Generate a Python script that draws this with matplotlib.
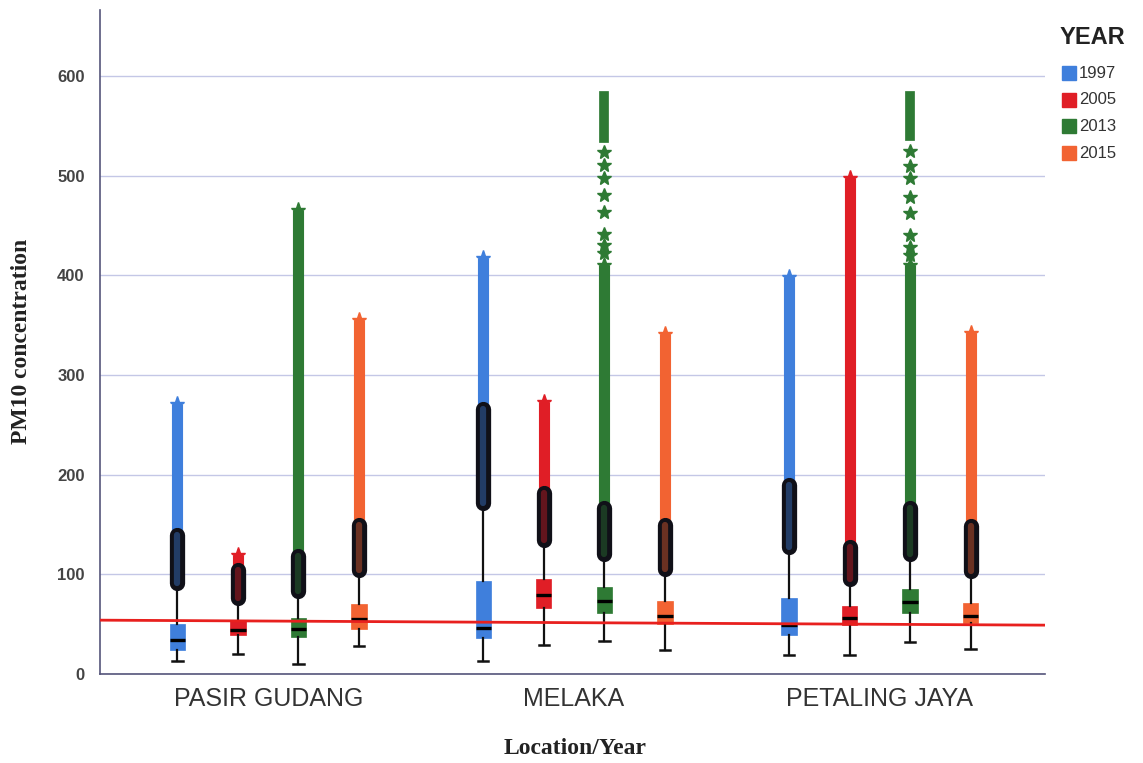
import matplotlib
matplotlib.use("Agg")
import matplotlib.pyplot as plt
from matplotlib.patches import Rectangle

# Boxplot de PM10 por estacion y anio
locations = ["PASIR GUDANG", "MELAKA", "PETALING JAYA"]
years = ["1997", "2005", "2013", "2015"]
colors = ["#3f7fdc", "#e01e26", "#2e7a34", "#f26332"]

# filas = estacion, columnas = anio
whis_lo = [[13, 20, 10, 28], [13, 29, 33, 24], [19, 19, 32, 25]]
q1 = [[24, 39, 37, 45], [36, 66, 61, 50], [39, 49, 61, 51]]
med = [[34, 44, 45, 55], [46, 79, 73, 58], [49, 56, 72, 58]]
q3 = [[50, 54, 56, 70], [93, 95, 87, 73], [76, 68, 85, 71]]
whis_hi = [[91, 76, 83, 104], [172, 134, 120, 105], [127, 95, 120, 103]]
# techo de los outliers (circulos) y de los extremos densos (estrellas)
outlier_top = [[139, 104, 118, 149], [266, 182, 167, 149], [190, 127, 166, 148]]
extreme_top = [[271, 119, 465, 355], [417, 273, 410, 341], [398, 497, 410, 342]]

# extremos sueltos de 2013 (MELAKA, PETALING JAYA)
melaka_2013_stars = [422, 430, 441, 463, 480, 497, 511, 524]
pj_2013_stars = [420, 428, 440, 462, 478, 497, 510, 525]
melaka_2013_top = [538, 580]
pj_2013_top = [540, 580]

limit_line = [54, 49]

fig = plt.figure(figsize=(11.43, 7.63), dpi=100)
ax = fig.add_axes([100 / 1143, 89 / 763, 945 / 1143, 664 / 763])

offsets = [-1.5, -0.5, 0.5, 1.5]
step = 0.198

for j, year in enumerate(years):
    pos = [i + offsets[j] * step for i in range(len(locations))]
    stats = []
    for i in range(len(locations)):
        stats.append({"med": med[i][j], "q1": q1[i][j], "q3": q3[i][j],
                      "whislo": whis_lo[i][j], "whishi": whis_hi[i][j], "fliers": []})
    ax.bxp(stats, positions=pos, widths=0.05, patch_artist=True, showfliers=False,
           capwidths=0.034, manage_ticks=False,
           boxprops=dict(facecolor=colors[j], edgecolor=colors[j], linewidth=0.5),
           medianprops=dict(color="black", linewidth=2.4),
           whiskerprops=dict(color="#111111", linewidth=1.6),
           capprops=dict(color="#111111", linewidth=1.8))
    for i, x in enumerate(pos):
        # extremos densos
        ax.plot([x, x], [outlier_top[i][j], extreme_top[i][j]], color=colors[j],
                lw=8, solid_capstyle="butt", zorder=3)
        ax.plot([x], [extreme_top[i][j]], marker="*", ms=11, color=colors[j], zorder=3)
        # outliers (circulos con borde negro)
        ax.plot([x, x], [whis_hi[i][j], outlier_top[i][j]], color="#101018",
                lw=11, solid_capstyle="round", zorder=4)
        ax.plot([x, x], [whis_hi[i][j], outlier_top[i][j]], color=colors[j],
                lw=4.5, alpha=0.4, solid_capstyle="round", zorder=5)

x13 = [1 + offsets[2] * step, 2 + offsets[2] * step]
ax.plot([x13[0]] * len(melaka_2013_stars), melaka_2013_stars, "*", ms=10,
        color=colors[2], zorder=3)
ax.plot([x13[1]] * len(pj_2013_stars), pj_2013_stars, "*", ms=10,
        color=colors[2], zorder=3)
ax.plot([x13[0], x13[0]], melaka_2013_top, color=colors[2], lw=7, zorder=3)
ax.plot([x13[1], x13[1]], pj_2013_top, color=colors[2], lw=7, zorder=3)

xlim = (-0.55, 2.54)
ax.plot(xlim, limit_line, color="#e8201e", lw=2, zorder=10)

ax.set_xlim(xlim)
ax.set_ylim(0, 666)
ax.set_yticks([0, 100, 200, 300, 400, 500, 600])
ax.set_xticks(range(len(locations)))
ax.set_xticklabels(locations, fontsize=18, color="#333333", family="Liberation Sans")
ax.tick_params(axis="x", length=0, pad=9)
ax.tick_params(axis="y", length=0, pad=11, labelsize=12, labelcolor="#444444")
for lab in ax.get_yticklabels():
    lab.set_fontweight("bold")
    lab.set_family("Liberation Sans")

ax.grid(axis="y", color="#c4c7e6", lw=1)
ax.set_axisbelow(True)
for s in ["top", "right"]:
    ax.spines[s].set_visible(False)
for s in ["left", "bottom"]:
    ax.spines[s].set_color("#55557a")
    ax.spines[s].set_linewidth(1.2)

fig.text(22 / 1143, 1 - 341 / 763, "PM10 concentration", rotation=90, va="center",
         ha="center", fontsize=17, fontweight="bold", family="Liberation Serif",
         color="#222222")
fig.text(575 / 1143, 1 - 748 / 763, "Location/Year", va="center", ha="center",
         fontsize=17, fontweight="bold", family="Liberation Serif", color="#222222")

# leyenda manual
fig.text(1060 / 1143, 1 - 37 / 763, "YEAR", va="center", ha="left", fontsize=17,
         fontweight="bold", family="Liberation Sans", color="#222222")
for k, year in enumerate(years):
    yc = 73 + 26.7 * k
    fig.add_artist(Rectangle((1062 / 1143, 1 - (yc + 7) / 763), 14 / 1143, 14 / 763,
                             transform=fig.transFigure, color=colors[k]))
    fig.text(1079 / 1143, 1 - yc / 763, year, va="center", ha="left", fontsize=12,
             family="Liberation Sans", color="#333333")

fig.savefig("out.png", dpi=100)
